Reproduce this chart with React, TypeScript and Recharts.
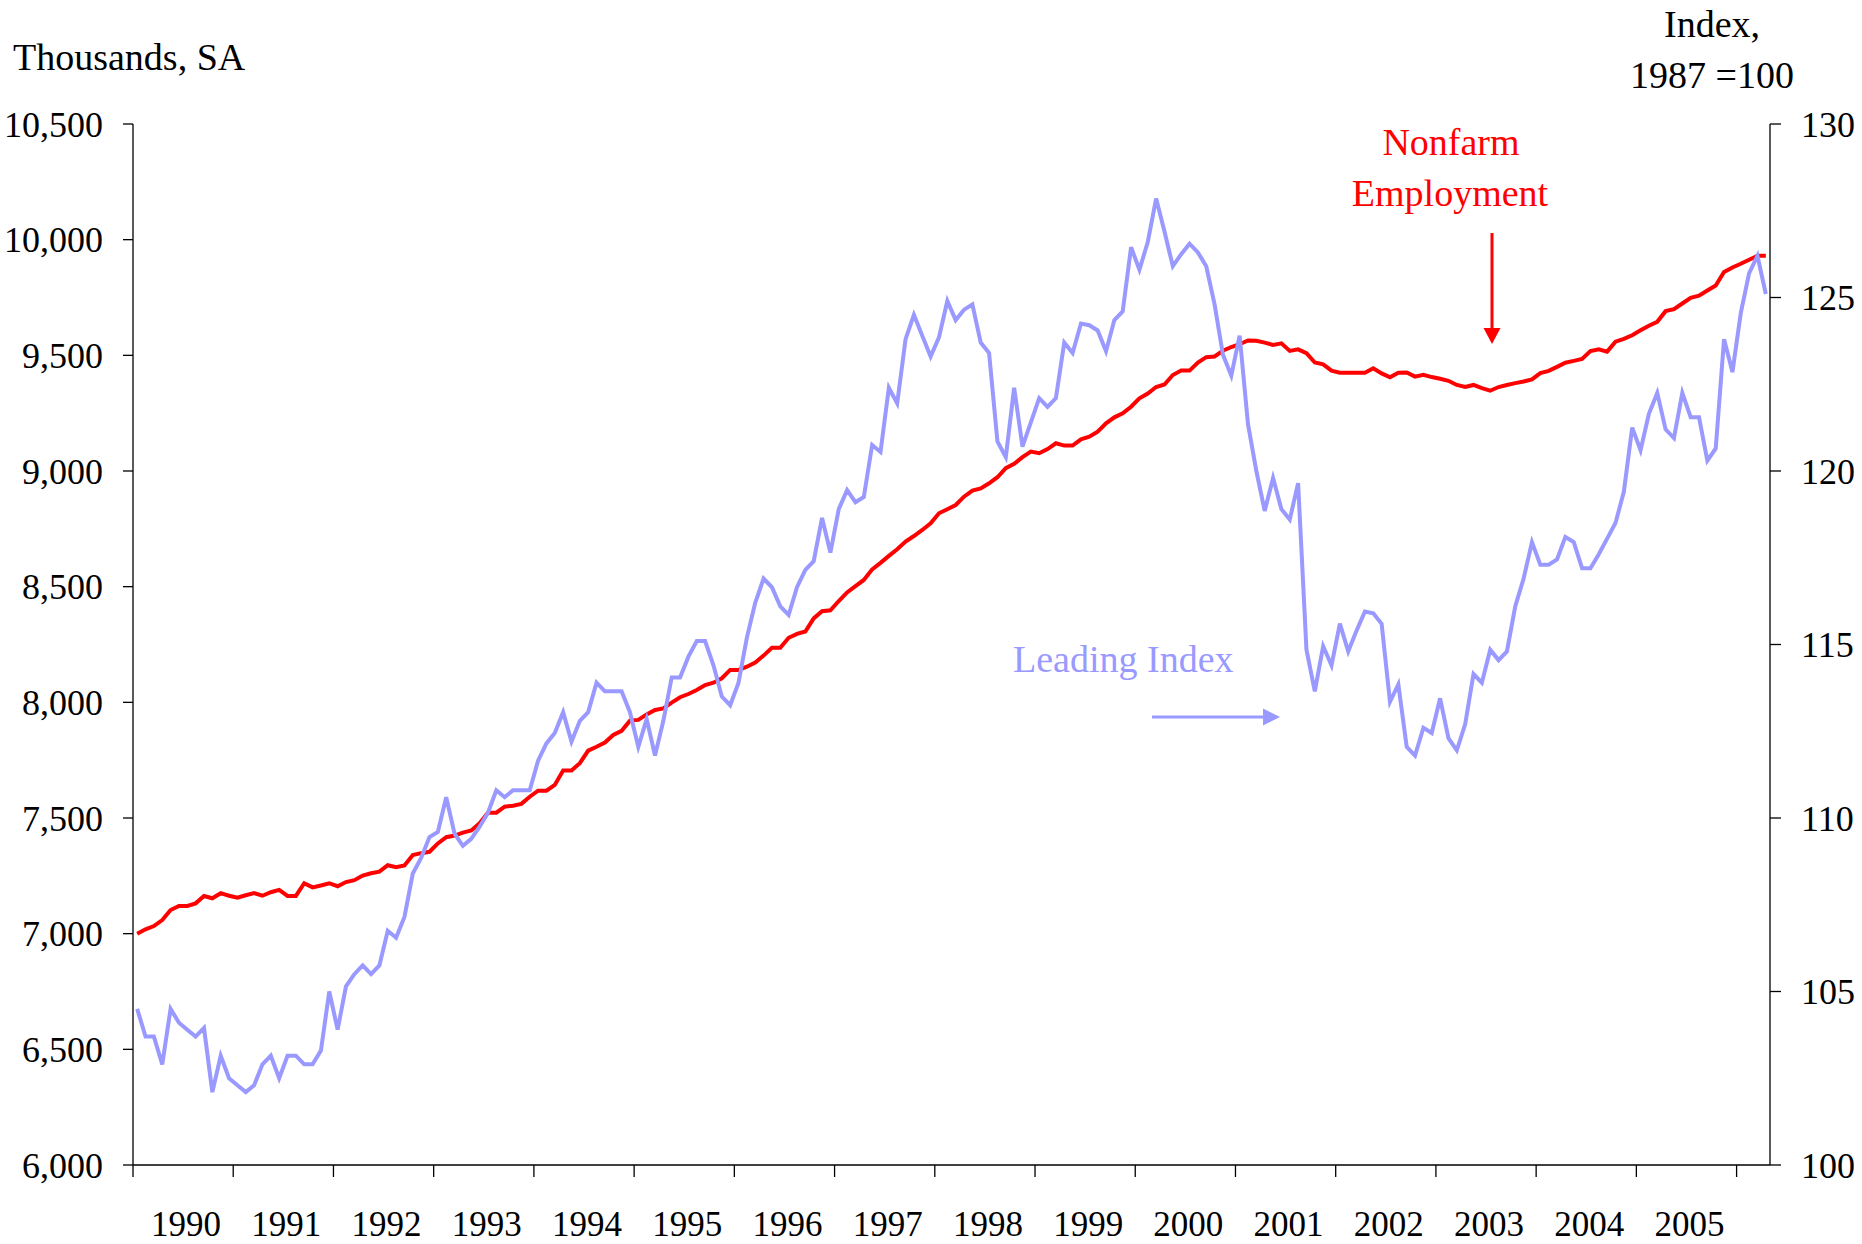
import { LineChart, Line, XAxis, YAxis } from 'recharts';

// monthly, Jan 1990 - Apr 2006
const nonfarm = [
  7000, 7019, 7033, 7059, 7102, 7120, 7120, 7131, 7163, 7153, 7175, 7164,
  7156, 7166, 7175, 7164, 7179, 7189, 7163, 7163, 7218, 7200, 7208, 7218,
  7205, 7223, 7231, 7251, 7261, 7268, 7296, 7287, 7295, 7340, 7348, 7354,
  7390, 7417, 7424, 7437, 7446, 7477, 7523, 7523, 7549, 7553, 7561, 7592,
  7618, 7618, 7643, 7705, 7705, 7737, 7791, 7808, 7826, 7859, 7877, 7921,
  7924, 7948, 7967, 7974, 7999, 8022, 8036, 8053, 8075, 8085, 8104, 8140,
  8140, 8154, 8172, 8202, 8236, 8236, 8279, 8296, 8306, 8363, 8394, 8398,
  8438, 8475, 8502, 8529, 8575, 8603, 8633, 8662, 8695, 8719, 8745, 8774,
  8817, 8835, 8853, 8889, 8915, 8925, 8947, 8973, 9012, 9031, 9060, 9084,
  9077, 9095, 9120, 9110, 9110, 9137, 9148, 9170, 9206, 9232, 9249, 9278,
  9314, 9335, 9363, 9374, 9415, 9434, 9434, 9469, 9492, 9495, 9520, 9536,
  9548, 9564, 9563, 9555, 9545, 9552, 9519, 9526, 9509, 9469, 9461, 9434,
  9425, 9425, 9425, 9425, 9444, 9422, 9405, 9425, 9426, 9408, 9416, 9406,
  9399, 9390, 9372, 9363, 9372, 9358, 9347, 9363, 9372, 9380, 9387, 9396,
  9423, 9433, 9450, 9468, 9476, 9484, 9518, 9526, 9516, 9559, 9571, 9587,
  9608, 9628, 9645, 9691, 9700, 9724, 9749, 9758, 9780, 9802, 9860, 9880,
  9896, 9913, 9930, 9930,
];

const leading = [
  104.5, 103.7, 103.7, 102.9, 104.5, 104.1, 103.9, 103.7, 103.95, 102.1, 103.15, 102.5,
  102.3, 102.1, 102.3, 102.9, 103.15, 102.5, 103.15, 103.15, 102.9, 102.9, 103.3, 105.0,
  103.9, 105.15, 105.5, 105.75, 105.5, 105.75, 106.75, 106.55, 107.15, 108.4, 108.85, 109.45,
  109.6, 110.6, 109.55, 109.2, 109.4, 109.75, 110.15, 110.8, 110.6, 110.8, 110.8, 110.8,
  111.65, 112.15, 112.45, 113.05, 112.2, 112.8, 113.05, 113.9, 113.65, 113.65, 113.65, 113.05,
  112.05, 112.85, 111.8, 112.8, 114.05, 114.05, 114.65, 115.1, 115.1, 114.4, 113.5, 113.25,
  113.9, 115.2, 116.2, 116.9, 116.65, 116.1, 115.85, 116.65, 117.15, 117.4, 118.65, 117.65,
  118.9, 119.45, 119.1, 119.25, 120.75, 120.55, 122.4, 121.95, 123.8, 124.5, 123.9, 123.3,
  123.85, 124.9, 124.35, 124.65, 124.8, 123.7, 123.4, 120.85, 120.4, 122.4, 120.7, 121.4,
  122.1, 121.85, 122.1, 123.7, 123.4, 124.25, 124.2, 124.05, 123.45, 124.35, 124.6, 126.45,
  125.8, 126.6, 127.85, 126.9, 125.9, 126.25, 126.55, 126.3, 125.9, 124.8, 123.35, 122.75,
  123.9, 121.35, 120.0, 118.85, 119.8, 118.9, 118.6, 119.65, 114.85, 113.65, 114.95, 114.4,
  115.6, 114.8, 115.4, 115.95, 115.9, 115.6, 113.35, 113.85, 112.05, 111.8, 112.6, 112.45,
  113.45, 112.3, 111.95, 112.7, 114.15, 113.9, 114.85, 114.55, 114.8, 116.1, 116.9, 117.95,
  117.3, 117.3, 117.45, 118.1, 117.95, 117.2, 117.2, 117.6, 118.05, 118.5, 119.4, 121.25,
  120.6, 121.65, 122.25, 121.2, 120.95, 122.25, 121.55, 121.55, 120.3, 120.65, 123.8, 122.85,
  124.55, 125.7, 126.2, 125.1,
];

const years = ['1990', '1991', '1992', '1993', '1994', '1995', '1996', '1997',
  '1998', '1999', '2000', '2001', '2002', '2003', '2004', '2005'];
const leftTicks = [6000, 6500, 7000, 7500, 8000, 8500, 9000, 9500, 10000, 10500];
const rightTicks = [100, 105, 110, 115, 120, 125, 130];

const rows = nonfarm.map((v, i) => ({ i, nonfarm: v, leading: leading[i] }));
// year boundaries, one tick every 12 months (plus the start of 2006)
const xTicks = Array.from({ length: years.length + 1 }, (_, k) => k * 12 - 0.5);

const serif = '"Liberation Serif", "Times New Roman", serif';
const W = 1862;
const H = 1244;
const plotW = 1770 - 133;
const halfYear = (plotW / rows.length) * 6;

const YearTick = (props: any) => {
  const { x, y, payload } = props;
  const k = Math.round((payload.value + 0.5) / 12);
  if (k >= years.length) return null;
  return (
    <text x={x + halfYear + 3} y={y + 57} textAnchor="middle" fontSize={35} fontFamily={serif} fill="#000">
      {years[k]}
    </text>
  );
};

export default function App() {
  const axisStroke = { stroke: '#000', strokeWidth: 1.3 };
  const tickFont = { fill: '#000', fontSize: 36, fontFamily: serif };
  return (
    <div style={{ position: 'absolute', left: 0, top: 0, width: W, height: H, background: '#fff' }}>
      <LineChart width={W} height={H} data={rows} margin={{ top: 124, right: 7, bottom: 9, left: 8 }}>
        <XAxis
          type="number"
          dataKey="i"
          domain={[-0.5, rows.length - 0.5]}
          ticks={xTicks}
          interval={0}
          tick={<YearTick />}
          tickSize={12}
          tickMargin={2}
          height={70}
          axisLine={axisStroke}
          tickLine={axisStroke}
        />
        <YAxis
          yAxisId="left"
          domain={[6000, 10500]}
          ticks={leftTicks}
          interval={0}
          tickFormatter={(v: number) => v.toLocaleString('en-US')}
          width={125}
          tickSize={10}
          tickMargin={20}
          tick={tickFont}
          axisLine={axisStroke}
          tickLine={axisStroke}
        />
        <YAxis
          yAxisId="right"
          orientation="right"
          domain={[100, 130]}
          ticks={rightTicks}
          interval={0}
          width={85}
          tickSize={11}
          tickMargin={20}
          tick={tickFont}
          axisLine={axisStroke}
          tickLine={axisStroke}
        />
        <Line yAxisId="left" type="linear" dataKey="nonfarm" stroke="#FF0000" strokeWidth={4} dot={false} isAnimationActive={false} />
        <Line yAxisId="right" type="linear" dataKey="leading" stroke="#9999FF" strokeWidth={4} dot={false} isAnimationActive={false} />
      </LineChart>
      <svg width={W} height={H} style={{ position: 'absolute', left: 0, top: 0, pointerEvents: 'none' }}>
        <g fontFamily={serif}>
          <text x={13} y={70} fontSize={38} fill="#000">Thousands, SA</text>
          <text x={1712} y={37} fontSize={38} fill="#000" textAnchor="middle">Index,</text>
          <text x={1712} y={88} fontSize={38} fill="#000" textAnchor="middle">1987 =100</text>
          <text x={1451} y={155} fontSize={38} fill="#FF0000" textAnchor="middle">Nonfarm</text>
          <text x={1450} y={206} fontSize={38} fill="#FF0000" textAnchor="middle">Employment</text>
          <text x={1013} y={672} fontSize={38} fill="#9999FF">Leading Index</text>
        </g>
        <line x1={1492} y1={233} x2={1492} y2={330} stroke="#FF0000" strokeWidth={3} />
        <polygon points="1483.5,328 1500.5,328 1492,344" fill="#FF0000" />
        <line x1={1152} y1={717} x2={1265} y2={717} stroke="#9999FF" strokeWidth={3} />
        <polygon points="1263,708.5 1263,725.5 1280,717" fill="#9999FF" />
      </svg>
    </div>
  );
}
